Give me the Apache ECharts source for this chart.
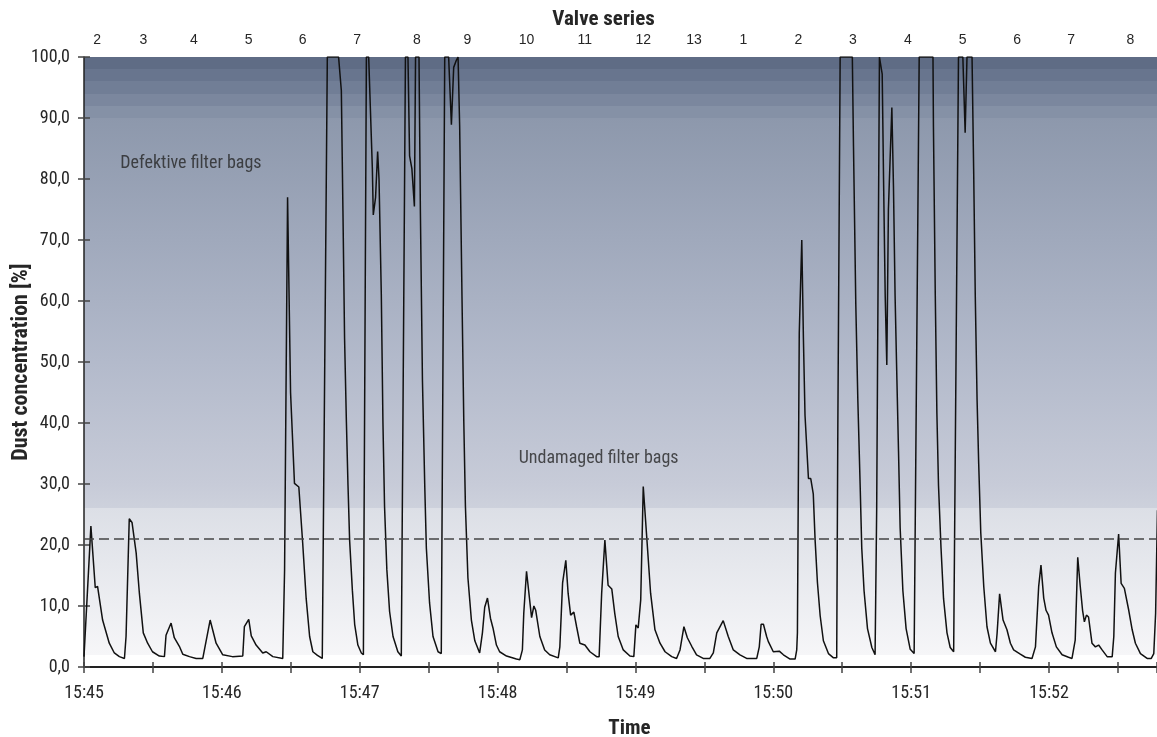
<!DOCTYPE html>
<html>
<head>
<meta charset="utf-8">
<title>Dust concentration</title>
<script src="https://cdn.jsdelivr.net/npm/echarts@6/dist/echarts.min.js"></script>
<style>
  html, body { margin: 0; padding: 0; background: #fff; }
  #chart { width: 1157px; height: 737px; }
</style>
</head>
<body>
<div id="chart"></div>
<script>
/* Dust concentration during filter cleaning. */
const START_MIN = 45;            // 15:45:00 is t = 0 s
const T_MAX = 467;               // seconds shown

// top axis: valve series numbers (seconds after 15:45:00)
const valveLabels = ['2', '3', '4', '5', '6', '7', '8', '9', '10', '11', '12', '13', '1',
  '2', '3', '4', '5', '6', '7', '8'];
const valveTimes = [5.7, 25.8, 47.8, 71.7, 95.2, 118.9, 144.9, 166.9, 192.6, 218.0, 243.4,
  265.5, 287.0, 310.9, 334.6, 358.6, 382.4, 406.1, 429.6, 455.4];

// measured signal, seconds after 15:45:00 and dust concentration [%]
const sampleTimes = [
  0, 0.8, 3.0, 4.9, 5.9, 8.1, 11.0, 13.2, 15.4, 17.6, 18.3, 19.7, 20.9, 22.7, 24.1, 25.8,
  27.7, 29.8, 32.8, 35.0, 35.7, 37.9, 39.3, 41.5, 43.0, 45.9, 48.8, 51.7, 54.9, 57.5, 60.4,
  64.6, 69.1, 69.8, 71.7, 72.8, 74.9, 77.8, 79.3, 82.2, 86.5, 87.3, 88.6, 89.9, 91.6, 93.5,
  95.2, 96.7, 98.2, 99.6, 101.6, 103.7, 105.9, 110.8, 112.0, 112.7, 113.4, 114.2, 114.9,
  115.6, 116.8, 117.8, 119.2, 120.7, 121.6, 122.9, 123.9, 124.6, 125.5, 125.9, 126.9, 127.8,
  128.4, 129.4, 130.1, 130.8, 131.8, 133.0, 134.5, 136.6, 138.1, 139.9, 141.0, 141.7, 142.7,
  143.8, 144.3, 145.8, 146.4, 147.3, 148.3, 149.0, 150.4, 151.9, 154.1, 155.5, 157.0, 158.7,
  159.9, 160.9, 162.1, 162.8, 163.5, 164.5, 165.3, 166.0, 167.1, 168.6, 170.1, 172.2, 173.4,
  174.4, 175.6, 176.9, 178.0, 179.5, 180.9, 183.9, 188.2, 189.7, 190.8, 191.4, 192.6, 194.8,
  195.8, 196.6, 198.4, 200.5, 202.7, 206.4, 207.1, 208.3, 209.7, 210.7, 211.8, 213.2, 214.4,
  215.8, 218.0, 220.2, 223.1, 224.2, 225.3, 226.7, 228.1, 229.7, 231.0, 232.5, 234.7, 237.6,
  239.3, 240.2, 241.2, 242.3, 243.4, 244.9, 246.6, 248.5, 250.7, 252.9, 255.8, 257.9, 259.4,
  261.1, 262.6, 264.5, 266.6, 269.5, 272.4, 273.9, 275.4, 278.2, 280.4, 282.6, 285.5, 288.4,
  292.8, 293.9, 294.7, 295.7, 297.1, 297.8, 300.0, 302.6, 304.4, 307.3, 309.5, 310.2, 310.5,
  311.3, 312.4, 313.1, 313.8, 315.3, 316.3, 317.4, 318.2, 319.2, 320.4, 321.8, 324.0, 326.2,
  327.6, 328.1, 329.1, 334.4, 334.9, 335.9, 336.8, 337.8, 338.5, 339.5, 341.0, 342.9, 344.3,
  345.0, 346.2, 346.5, 347.4, 348.0, 348.7, 349.4, 350.1, 351.6, 352.3, 353.0, 353.8, 354.5,
  355.2, 356.4, 357.8, 359.6, 361.3, 363.5, 369.5, 369.7, 370.5, 371.2, 371.9, 373.0, 374.1,
  375.6, 377.0, 378.5, 380.6, 382.5, 383.5, 384.3, 386.5, 387.2, 387.9, 388.7, 389.4, 390.3,
  391.6, 393.0, 394.5, 396.7, 397.4, 398.5, 400.0, 401.7, 403.2, 404.6, 407.5, 409.7, 412.6,
  414.1, 415.5, 416.5, 417.7, 418.7, 419.8, 421.3, 423.2, 425.7, 428.5, 430.0, 431.4, 432.5,
  433.6, 434.6, 435.4, 436.3, 437.2, 438.7, 440.2, 441.6, 443.1, 445.3, 447.5, 448.2, 448.9,
  450.3, 451.4, 452.8, 453.6, 454.7, 456.2, 457.6, 459.8, 462.7, 464.5, 465.6, 466.4, 467.2
];
const dust = [
  1.7, 2.0, 23.1, 13.0, 13.2, 7.7, 3.9, 2.3, 1.7, 1.4, 5.0, 24.3, 23.7, 18.7, 12.1, 5.6,
  3.9, 2.5, 1.8, 1.7, 5.2, 7.2, 4.8, 3.4, 2.1, 1.7, 1.4, 1.4, 7.7, 3.9, 2.0,
  1.7, 1.8, 6.6, 7.8, 5.1, 3.6, 2.3, 2.5, 1.7, 1.4, 15.9, 77.0, 45.0, 30.1, 29.5,
  20.2, 11.2, 5.0, 2.5, 1.9, 1.4, 100, 100, 94.5, 74.8, 54.0, 40.2, 29.8,
  20.8, 12.6, 7.0, 3.6, 2.3, 2.0, 100, 100, 92.0, 81.7, 74.1, 77.0, 84.5,
  80.0, 61.0, 40.2, 26.4, 16.0, 9.1, 5.0, 2.5, 1.8, 100, 100, 83.8, 81.7,
  75.5, 100, 100, 74.8, 47.0, 29.8, 19.5, 10.5, 5.0, 2.5, 2.2, 100, 100,
  88.9, 98.3, 99.5, 100, 88.6, 61.0, 40.2, 26.4, 14.6, 7.7, 4.3, 2.3, 5.6,
  9.8, 11.3, 8.0, 6.4, 3.6, 2.5, 1.8, 1.3, 1.2, 2.8, 8.8, 15.7, 8.1,
  10.0, 9.3, 5.0, 2.8, 2.0, 1.5, 3.3, 13.8, 17.5, 12.1, 8.5, 9.0, 6.6,
  3.9, 3.6, 2.5, 1.7, 1.7, 12.1, 20.8, 13.4, 12.8, 8.8, 5.0, 2.8, 1.8,
  1.7, 6.9, 6.4, 11.0, 29.6, 21.4, 12.1, 6.1, 3.9, 2.5, 1.7, 1.4, 2.8,
  6.6, 4.8, 3.4, 2.0, 1.4, 1.4, 2.3, 5.6, 7.6, 5.0, 2.8, 2.0, 1.4,
  1.4, 3.3, 7.0, 7.0, 5.0, 4.2, 2.5, 2.6, 2.0, 1.3, 1.3, 2.8, 5.6,
  54.7, 70.0, 54.0, 41.3, 30.9, 30.9, 28.4, 20.8, 13.9, 8.4, 4.3, 2.2, 1.5,
  1.5, 40.2, 100, 100, 85.5, 59.6, 43.7, 29.8, 19.5, 12.5, 6.3, 3.2, 2.0,
  26.0, 100, 100, 97.2, 79.6, 61.0, 49.5, 75.0, 91.7, 78.9, 61.0, 47.1, 35.4,
  22.9, 12.5, 6.3, 2.9, 2.2, 100, 100, 88.6, 61.0, 41.6, 29.8, 19.5, 11.2,
  5.6, 3.2, 2.5, 100, 100, 87.6, 100, 100, 81.7, 61.0, 43.7, 33.3, 22.0,
  13.2, 6.6, 3.9, 2.5, 5.5, 12.0, 7.7, 6.1, 3.9, 2.8, 2.1, 1.6, 1.4,
  3.3, 13.2, 16.7, 11.3, 9.3, 8.5, 5.6, 3.3, 2.0, 1.6, 1.4, 4.4, 18.0,
  13.2, 9.3, 7.4, 8.5, 8.2, 3.9, 3.3, 3.6, 2.8, 1.7, 1.7, 5.0, 15.4,
  21.8, 13.7, 12.9, 12.9, 9.3, 6.1, 3.9, 2.2, 1.4, 1.4, 2.2, 8.8, 25.7
];

const threshold = 21;             // limit line [%]

// region notes
const noteTexts = ['Defektive filter bags', 'Undamaged filter bags'];
const noteTimes = [15.8, 189.2];
const noteValues = [82.6, 34.1];

const NARROW = "'Roboto Condensed', 'Liberation Sans Narrow', 'Arial Narrow', sans-serif";
const INK = '#262626';

const pad = (n) => String(n).padStart(2, '0');
const clock = (s) => '15:' + pad(START_MIN + Math.floor(s / 60));

const bg = new echarts.graphic.LinearGradient(0, 0, 0, 1, [
  { offset: 0.00, color: '#5f6c85' }, { offset: 0.02, color: '#5f6c85' },
  { offset: 0.02, color: '#68758e' }, { offset: 0.04, color: '#68758e' },
  { offset: 0.04, color: '#717e96' }, { offset: 0.06, color: '#717e96' },
  { offset: 0.06, color: '#7b879e' }, { offset: 0.08, color: '#7b879e' },
  { offset: 0.08, color: '#8591a6' }, { offset: 0.10, color: '#8591a6' },
  { offset: 0.10, color: '#8d98ac' },
  { offset: 0.30, color: '#a0a9bc' },
  { offset: 0.50, color: '#b3bacb' },
  { offset: 0.70, color: '#c7cbd8' },
  { offset: 0.74, color: '#cdd1dc' },
  { offset: 0.74, color: '#dcdfe6' },
  { offset: 0.98, color: '#f6f6f8' },
  { offset: 0.98, color: '#ffffff' }, { offset: 1.00, color: '#ffffff' }
]);

const chart = echarts.init(document.getElementById('chart'), null, { renderer: 'canvas' });

const tickStyle = { color: '#444', width: 1.5 };

chart.setOption({
  animation: false,
  grid: { left: 84, right: 0, top: 57, bottom: 70, show: true, borderWidth: 0, backgroundColor: bg,
    containLabel: false, outerBoundsMode: 'none' },
  xAxis: [
    {
      type: 'value', position: 'bottom', min: 0, max: T_MAX, interval: 30,
      name: 'Time', nameLocation: 'middle', nameGap: 51, nameMoveOverlap: false,
      nameTextStyle: { fontFamily: NARROW, fontSize: 21, fontWeight: 'bold', color: INK, padding: [0, 0, 0, 18] },
      axisLine: { show: true, lineStyle: { color: '#222', width: 2 } },
      axisTick: { show: true, inside: false, length: 6, lineStyle: tickStyle },
      axisLabel: {
        fontFamily: NARROW, fontSize: 18, color: INK, margin: 17,
        formatter: (v) => (v % 60 === 0 ? clock(v) : '')
      },
      splitLine: { show: false }
    },
    {
      type: 'value', position: 'top', min: 0, max: T_MAX,
      name: 'Valve series', nameLocation: 'middle', nameGap: 27, nameMoveOverlap: false,
      nameTextStyle: { fontFamily: NARROW, fontSize: 21, fontWeight: 'bold', color: INK, padding: [0, 34, 0, 0] },
      axisLine: { show: true, lineStyle: { color: '#222', width: 2 } },
      axisTick: { show: false },
      axisLabel: {
        customValues: valveTimes, showMinLabel: true, showMaxLabel: true,
        fontFamily: "'Liberation Sans', Arial, sans-serif", fontSize: 14, color: INK, margin: 10,
        formatter: (v) => { const i = valveTimes.indexOf(v); return i < 0 ? '' : valveLabels[i]; }
      },
      splitLine: { show: false }
    },
    {
      // inner half of the crossing ticks
      type: 'value', position: 'bottom', min: 0, max: T_MAX, interval: 30,
      axisLine: { show: false }, axisLabel: { show: false }, splitLine: { show: false },
      axisTick: { show: true, inside: true, length: 5, lineStyle: tickStyle }
    }
  ],
  yAxis: [
    {
      type: 'value', min: 0, max: 100, interval: 10,
      name: 'Dust concentration [%]', nameLocation: 'middle', nameGap: 52, nameRotate: 90,
      nameMoveOverlap: false,
      nameTextStyle: { fontFamily: NARROW, fontSize: 22, fontWeight: 'bold', color: INK },
      axisLine: { show: true, lineStyle: { color: '#222', width: 1.5 } },
      axisTick: { show: true, inside: false, length: 6, lineStyle: tickStyle },
      axisLabel: {
        fontFamily: NARROW, fontSize: 18, color: INK, margin: 14,
        formatter: (v) => v.toFixed(1).replace('.', ',')
      },
      splitLine: { show: false }
    },
    {
      type: 'value', position: 'left', min: 0, max: 100, interval: 10,
      axisLine: { show: false }, axisLabel: { show: false }, splitLine: { show: false },
      axisTick: { show: true, inside: true, length: 6, lineStyle: tickStyle }
    }
  ],
  series: [
    {
      name: 'Dust', type: 'line', xAxisIndex: 0, yAxisIndex: 0,
      data: sampleTimes.map((t, i) => [t, dust[i]]),
      showSymbol: false, symbol: 'none', smooth: false, clip: true,
      lineStyle: { color: '#111', width: 1.5 },
      markLine: {
        symbol: 'none', silent: true, label: { show: false },
        lineStyle: { color: '#444', width: 1.5, type: [10, 5] },
        data: [{ yAxis: threshold }]
      },
      z: 3
    },
    {
      name: 'notes', type: 'scatter', xAxisIndex: 0, yAxisIndex: 0,
      symbolSize: 0, silent: true,
      data: noteTexts.map((n, i) => ({ name: n, value: [noteTimes[i], noteValues[i]] })),
      label: {
        show: true, position: 'right', distance: 0, formatter: (p) => p.name,
        fontFamily: NARROW, fontSize: 18, color: INK
      },
      z: 4
    }
  ]
});
</script>
</body>
</html>
